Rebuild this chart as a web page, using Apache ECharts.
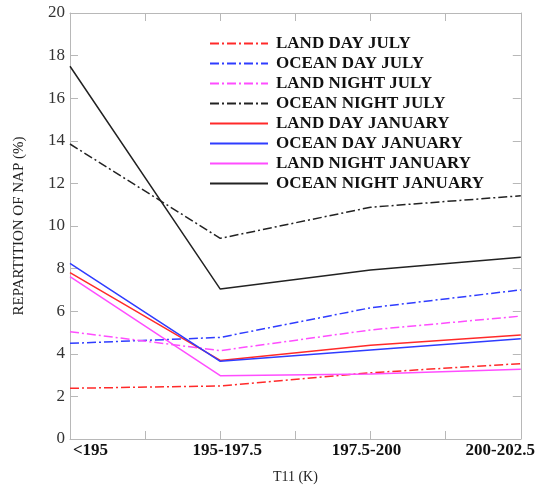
<!DOCTYPE html>
<html><head><meta charset="utf-8">
<script src="https://cdn.jsdelivr.net/npm/echarts@6/dist/echarts.min.js"></script>
<style>html,body{margin:0;padding:0;background:#fff}#c{width:538px;height:498px}</style>
</head><body><div id="c"></div>
<script>
const categories = ['<195', '195-197.5', '197.5-200', '200-202.5'];
const seriesNames = ['LAND DAY JULY','OCEAN DAY JULY','LAND NIGHT JULY','OCEAN NIGHT JULY','LAND DAY JANUARY','OCEAN DAY JANUARY','LAND NIGHT JANUARY','OCEAN NIGHT JANUARY'];
const landDayJuly = [2.38, 2.49, 3.11, 3.54];
const oceanDayJuly = [4.49, 4.77, 6.16, 7.0];
const landNightJuly = [5.04, 4.15, 5.12, 5.77];
const oceanNightJuly = [13.85, 9.42, 10.88, 11.42];
const landDayJan = [7.81, 3.69, 4.40, 4.88];
const oceanDayJan = [8.25, 3.65, 4.18, 4.71];
const landNightJan = [7.62, 2.97, 3.05, 3.27];
const oceanNightJan = [17.5, 7.04, 7.93, 8.53];
const yTicks = [0, 2, 4, 6, 8, 10, 12, 14, 16, 18, 20];

const allValues = [landDayJuly, oceanDayJuly, landNightJuly, oceanNightJuly, landDayJan, oceanDayJan, landNightJan, oceanNightJan];
const colors = ['#ff2a2a', '#2f3cff', '#ff4dff', '#222222', '#ff2a2a', '#2f3cff', '#ff4dff', '#222222'];
const dashDot = [9, 3, 2, 3];

const series = allValues.map((vals, i) => ({
  name: seriesNames[i],
  type: 'line',
  symbol: 'none',
  data: vals.map((v, j) => [j, v]),
  lineStyle: { color: colors[i], width: 1.5, type: i < 4 ? dashDot : 'solid' },
  itemStyle: { color: colors[i] },
  z: i < 4 ? 2 : 3
}));

const frame = '#b8b8b8';
const serif = '"Liberation Serif", "DejaVu Serif", serif';
function tickStyle() { return { show: true, inside: true, length: 8, lineStyle: { color: frame, width: 1 } }; }
function minorStyle() { return { show: true, splitNumber: 2, length: 8, lineStyle: { color: frame, width: 1 } }; }
function lineStyle() { return { show: true, onZero: false, lineStyle: { color: frame, width: 1 } }; }

const chart = echarts.init(document.getElementById('c'), null, { renderer: 'canvas' });
chart.setOption({
  animation: false,
  backgroundColor: '#fff',
  grid: { left: 70, right: 17, top: 13, bottom: 59 },
  legend: {
    orient: 'vertical',
    left: 204,
    top: 30,
    itemWidth: 58,
    itemHeight: 14,
    itemGap: 3,
    data: seriesNames,
    itemStyle: { opacity: 0 },
    textStyle: { fontFamily: serif, fontWeight: 'bold', fontSize: 17, color: '#111', padding: [0, 0, 0, 3] }
  },
  xAxis: [{
    type: 'value', min: 0, max: 3, interval: 1,
    name: 'T11 (K)', nameLocation: 'middle', nameGap: 31,
    nameTextStyle: { fontFamily: serif, fontSize: 14, color: '#222' },
    axisLine: lineStyle(),
    axisTick: tickStyle(),
    minorTick: minorStyle(),
    splitLine: { show: false },
    axisLabel: {
      margin: 3,
      fontFamily: serif, fontWeight: 'bold', fontSize: 17, color: '#111',
      formatter: function (v) {
        const i = Math.round(v);
        return '{l' + i + '|' + categories[i] + '}';
      },
      rich: {
        l0: { fontFamily: serif, fontWeight: 'bold', fontSize: 17, color: '#111', padding: [0, 0, 0, 41] },
        l1: { fontFamily: serif, fontWeight: 'bold', fontSize: 17, color: '#111', padding: [0, 0, 0, 14] },
        l2: { fontFamily: serif, fontWeight: 'bold', fontSize: 17, color: '#111', padding: [0, 8, 0, 0] },
        l3: { fontFamily: serif, fontWeight: 'bold', fontSize: 17, color: '#111', padding: [0, 41, 0, 0] }
      }
    }
  }, {
    type: 'value', min: 0, max: 3, interval: 1, position: 'top',
    axisLine: lineStyle(),
    axisTick: tickStyle(),
    minorTick: minorStyle(),
    axisLabel: { show: false }, splitLine: { show: false }
  }],
  yAxis: [{
    type: 'value', min: yTicks[0], max: yTicks[yTicks.length - 1], interval: 2,
    name: 'REPARTITION OF NAP (%)', nameLocation: 'middle', nameGap: 43, nameRotate: 90,
    nameTextStyle: { fontFamily: serif, fontSize: 15, color: '#222' },
    axisLine: lineStyle(),
    axisTick: tickStyle(),
    splitLine: { show: false },
    axisLabel: { margin: 5, fontFamily: serif, fontSize: 17, color: '#333' }
  }, {
    type: 'value', min: yTicks[0], max: yTicks[yTicks.length - 1], interval: 2, position: 'right',
    axisLine: lineStyle(),
    axisTick: tickStyle(),
    axisLabel: { show: false }, splitLine: { show: false }
  }],
  series: series
});
</script>
</body></html>
